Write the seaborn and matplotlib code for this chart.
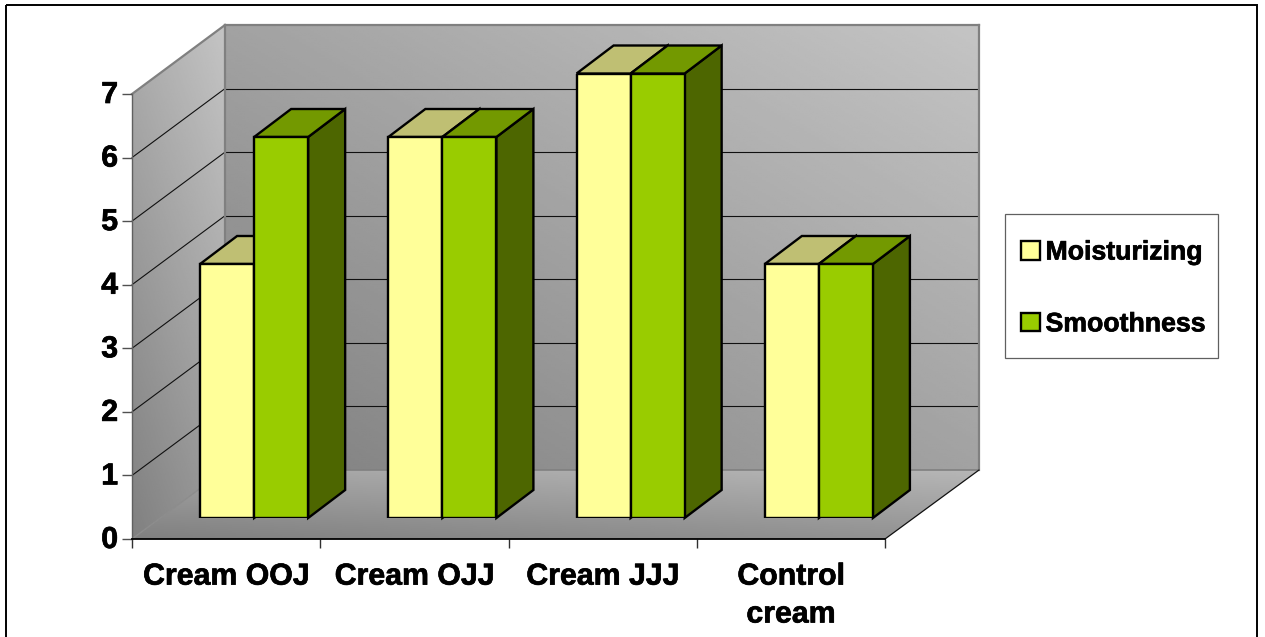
import numpy as np
import pandas as pd
import matplotlib
matplotlib.use("Agg")
import matplotlib.pyplot as plt
import matplotlib.patheffects as pe
from matplotlib.patches import Polygon, Rectangle
from matplotlib.transforms import IdentityTransform, ScaledTranslation
import seaborn as sns

# Data
creams = ["Cream OOJ", "Cream OJJ", "Cream JJJ", "Control\ncream"]
moisturizing = [4, 6, 7, 4]
smoothness = [6, 6, 7, 4]
value_ticks = [0, 1, 2, 3, 4, 5, 6, 7]

df = pd.DataFrame({
    "cream": creams * 2,
    "score": moisturizing + smoothness,
    "property": ["Moisturizing"] * 4 + ["Smoothness"] * 4,
})

W, H = 1265, 637
colors = {"Moisturizing": "#FFFF99", "Smoothness": "#99CC00"}
top_colors = ["#BFBF73", "#739900"]
side_colors = ["#80804D", "#4D6600"]

sns.set_theme(style="white")
plt.rcParams["font.family"] = ["Liberation Sans", "DejaVu Sans"]
plt.rcParams["font.weight"] = "bold"
plt.rcParams["text.color"] = "black"
plt.rcParams["xtick.color"] = "black"
plt.rcParams["ytick.color"] = "black"

fig = plt.figure(figsize=(W / 100, H / 100), dpi=100, facecolor="white")
heavy = [pe.withStroke(linewidth=0.5, foreground="black")]


# axes rectangle from picture pixels
def px_axes(x0, x1, y_top, y_bottom):
    return fig.add_axes([x0 / W, 1 - y_bottom / H, (x1 - x0) / W, (y_bottom - y_top) / H])


# Scene behind the chart, in picture pixels
scene = px_axes(0, W, 0, H)
scene.set_zorder(0)

wall_dx, wall_dy = 93, 69
fx0, fx1, fy0, fy7 = 132, 885, 539, 94


def gradient(poly, c_light, c_dark, xweight, yweight):
    # diagonal grey fill clipped to a wall polygon
    xs = np.array([p[0] for p in poly])
    ys = np.array([p[1] for p in poly])
    gx, gy = np.meshgrid(np.linspace(0, 1, 200), np.linspace(0, 1, 200))
    t = xweight * gx + yweight * (1 - gy)
    t = (t - t.min()) / (t.max() - t.min())
    img = c_dark + (c_light - c_dark) * t
    im = scene.imshow(img, cmap="gray", vmin=0, vmax=255, aspect="auto", interpolation="bilinear",
                      extent=[xs.min(), xs.max(), ys.max(), ys.min()], zorder=1)
    patch = Polygon(poly, closed=True, transform=scene.transData, fill=False, edgecolor="none")
    scene.add_patch(patch)
    im.set_clip_path(patch)


back = [(fx0 + wall_dx, fy7 - wall_dy), (fx1 + wall_dx + 1, fy7 - wall_dy),
        (fx1 + wall_dx + 1, fy0 - wall_dy), (fx0 + wall_dx, fy0 - wall_dy)]
left = [(fx0, fy7), (fx0 + wall_dx, fy7 - wall_dy), (fx0 + wall_dx, fy0 - wall_dy), (fx0, fy0)]
floor = [(fx0, fy0), (fx1, fy0), (fx1 + wall_dx + 1, fy0 - wall_dy), (fx0 + wall_dx, fy0 - wall_dy)]

gradient(back, 196, 128, 0.5, 0.5)
gradient(left, 196, 128, 0.35, 0.65)
gradient(floor, 182, 128, 0.35, 0.65)

scene.set_xlim(0, W)
scene.set_ylim(H, 0)
scene.axis("off")

# Front plane of the box carries the axis
ax_front = px_axes(fx0, fx1, fy7, fy0)
ax_front.set_zorder(1)
ax_front.patch.set_visible(False)
ax_front.set_xlim(-0.5, 3.5)
ax_front.set_ylim(0, 7)
ax_front.set_yticks(value_ticks)
ax_front.set_xticks([-0.5, 0.5, 1.5, 2.5, 3.5])
ax_front.set_xticklabels([])
ax_front.set_xticks([0, 1, 2, 3], minor=True)
ax_front.set_xticklabels(creams, minor=True, fontsize=21.8, fontweight="bold", linespacing=1.45)
ax_front.tick_params(axis="x", which="major", length=6.5, width=1, color="#303030", bottom=True)
ax_front.tick_params(axis="x", which="minor", length=0, pad=17, bottom=False)
ax_front.tick_params(axis="y", length=7, width=1, color="#505050", labelsize=21.8, pad=3, left=True)
up_2px = ScaledTranslation(0, 2 / 100, fig.dpi_scale_trans)
for lab in ax_front.get_yticklabels():
    lab.set_fontweight("bold")
    lab.set_transform(lab.get_transform() + up_2px)
    lab.set_path_effects(heavy)
for lab in ax_front.get_xticklabels(minor=True):
    lab.set_path_effects(heavy)
for name in ["top", "right"]:
    ax_front.spines[name].set_visible(False)
ax_front.spines["left"].set_color("#606060")
ax_front.spines["left"].set_linewidth(1)
ax_front.spines["bottom"].set_color("black")
ax_front.spines["bottom"].set_linewidth(1.3)

# Gridlines on the walls, taken from the value scale
for v in value_ticks[1:-1]:
    py = H - ax_front.transData.transform((0, v))[1]
    scene.plot([fx0, fx0 + wall_dx], [py, py - wall_dy], color="#101010", lw=0.8, zorder=3)
    scene.plot([fx0 + wall_dx, fx1 + wall_dx + 1], [py - wall_dy, py - wall_dy], color="#101010", lw=0.8, zorder=3)

# Wall edges
for a, b in [(back[0], back[1]), (back[1], back[2]), (back[0], back[3]), (left[0], left[1])]:
    scene.plot([a[0], b[0]], [a[1], b[1]], color="#808080", lw=1.6, zorder=4, solid_capstyle="projecting")
scene.plot([back[3][0], back[2][0]], [back[3][1], back[2][1]], color="#808080", lw=1.2, zorder=4)
scene.plot([floor[0][0], floor[3][0]], [floor[0][1], floor[3][1]], color="#8c8c8c", lw=1, zorder=4)
scene.plot([floor[1][0], floor[2][0]], [floor[1][1], floor[2][1]], color="#101010", lw=0.9, zorder=4)

# Outer frame and legend box
scene.add_patch(Rectangle((6, 5), 1251, 640, fill=False, edgecolor="black", lw=1.4, zorder=5))
scene.add_patch(Rectangle((1005, 214), 213, 144, facecolor="white", edgecolor="#606060", lw=0.9, zorder=5))

# Bars stand in a plane a bit inside the box
ax = px_axes(160, 913, 518 - 7 * 63.5, 518)
ax.set_zorder(2)
sns.barplot(data=df, x="cream", y="score", hue="property", palette=colors, order=creams,
            width=0.574, gap=0, saturation=1, edgecolor="black", linewidth=1.7, zorder=3, ax=ax)
ax.set_xlim(-0.5, 3.5)
ax.set_ylim(0, 7)

bar_dx, bar_dy = 37, 28
to_display = IdentityTransform()
for container, top_c, side_c in zip(ax.containers, top_colors, side_colors):
    for bar in container:
        x0, y1 = ax.transData.transform((bar.get_x(), bar.get_height()))
        x1, y0 = ax.transData.transform((bar.get_x() + bar.get_width(), 0))
        top = [(x0, y1), (x1, y1), (x1 + bar_dx, y1 + bar_dy), (x0 + bar_dx, y1 + bar_dy)]
        side = [(x1, y0), (x1 + bar_dx, y0 + bar_dy), (x1 + bar_dx, y1 + bar_dy), (x1, y1)]
        for pts, c in [(side, side_c), (top, top_c)]:
            ax.add_patch(Polygon(pts, closed=True, facecolor=c, edgecolor="black", lw=1.7,
                                 joinstyle="miter", transform=to_display, clip_on=False, zorder=2))

handles, labels = ax.get_legend_handles_labels()
ax.legend(handles, labels, loc="upper left", bbox_to_anchor=(1021 / W, 1 - 239.5 / H),
          bbox_transform=fig.transFigure, fontsize=19.2, frameon=False, borderpad=0,
          labelspacing=1.72, handlelength=0.7, handleheight=0.7, handletextpad=0.22,
          borderaxespad=0)
for txt in ax.legend_.get_texts():
    txt.set_fontweight("bold")
    txt.set_path_effects(heavy)
ax.axis("off")

fig.savefig("out.png", dpi=100)
